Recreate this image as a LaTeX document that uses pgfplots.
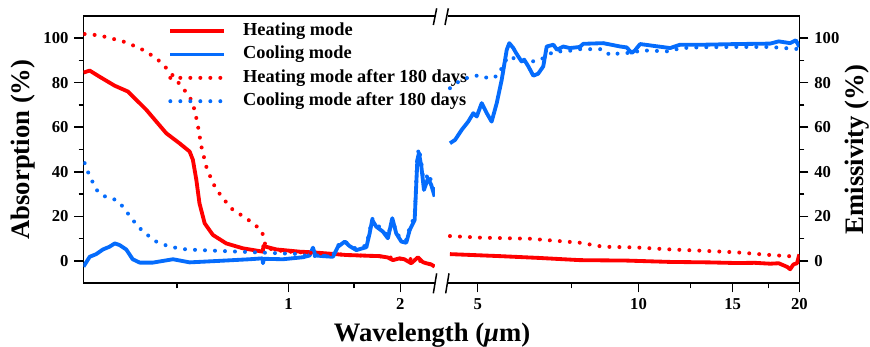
\documentclass[border=0pt]{standalone}
\usepackage{fontspec}
\setmainfont{Liberation Serif}
\usepackage{pgfplots}
\pgfplotsset{compat=1.18}
\definecolor{myred}{RGB}{255,0,0}
\definecolor{myblue}{RGB}{5,108,252}

\tikzset{
  solidline/.style={line width=2.3pt, line join=round},
  dotline/.style={line width=2.4pt, dash pattern=on 0pt off 6pt, line cap=round},
}

\begin{document}
\begin{tikzpicture}
\useasboundingbox (-50.1pt,-38.2pt) rectangle (471.9pt,170pt);

% ---------- left axis ----------
\begin{axis}[
  scale only axis, height=160.56pt, width=210.9pt,
  at={(0pt,0pt)}, anchor=south west,
  xmode=log, ymin=-10, ymax=110,
  xmin=0.28, xmax=2.48, xtick={1,2}, xticklabels={1,2}, minor xtick={0.5,1.5},
  ytick={0,20,40,60,80,100}, minor ytick={10,30,50,70,90},
  tick align=outside, major tick length=5.5pt, minor tick length=3pt,
  every tick/.append style={line width=0.9pt, black},
  axis line style={draw=none},
  clip mode=individual,
  xtick pos=bottom, ytick pos=left,
  tick label style={font=\fontsize{10}{12}\selectfont\bfseries},
  /pgf/number format/assume math mode=true,
  ylabel={Absorption (\%)},
  every axis y label/.style={at={(rel axis cs:-0.172,0.5)}, rotate=90, anchor=center,
    font=\fontsize{16}{18}\selectfont\bfseries},
  legend cell align=left,
  legend style={at={(rel axis cs:0.2404,0.987)}, anchor=north west, draw=none, fill=none,
    inner sep=0pt,
    font=\fontsize{11}{13}\selectfont\bfseries,
    nodes={text height=7.7pt, text depth=2.4pt, inner ysep=1.95pt}},
  legend image code/.code={\draw[#1] (0pt,0pt) -- (32.4pt,0pt); \path (40.5pt,0pt);},
]
\draw[line width=1pt] (rel axis cs:1,0) -- (rel axis cs:0,0) -- (rel axis cs:0,1) -- (rel axis cs:1,1);

\addplot[myred, solidline] coordinates {
(0.28,84.5) (0.291,85.4) (0.309,82.7) (0.340,78.6) (0.369,76.0) (0.4135,67.8)
(0.468,57.3) (0.508,52.8) (0.541,49.1) (0.552,45.4) (0.564,36.4) (0.575,25.9)
(0.594,16.9) (0.625,11.7) (0.679,7.9) (0.753,5.7) (0.852,4.2) (0.855,6.7)
(0.927,5.2) (1.07,4.2) (1.163,3.9) (1.43,2.7) (1.758,2.2) (1.85,1.6) (1.91,0.4)
(1.99,1.2) (2.05,0.8) (2.14,-1.0) (2.232,1.7) (2.30,-0.5) (2.35,-1.0) (2.42,-1.5) (2.475,-2.5)
};
\addlegendentry{Heating mode}

\addplot[myblue, solidline] coordinates {
(0.28,-2.5) (0.291,1.9) (0.303,3.1) (0.316,5.2) (0.329,6.4) (0.340,7.9) (0.350,7.2)
(0.365,5.2) (0.380,0.8) (0.397,-0.7) (0.431,-0.7) (0.488,0.8) (0.541,-0.6) (0.638,0.0)
(0.785,0.8) (0.85,1.2) (0.853,-1.0) (0.857,1.0) (0.965,0.8) (1.093,1.7) (1.14,2.5)
(1.163,6.0) (1.18,2.5) (1.237,2.2) (1.316,1.9) (1.358,6.4) (1.416,8.7) (1.46,6.7)
(1.522,4.9) (1.62,6.2) (1.653,12.4) (1.68,18.4) (1.723,15.4) (1.795,13.2) (1.852,10.2)
(1.903,19.2) (1.95,12.4) (2.013,8.7) (2.075,8.2) (2.12,13.9) (2.186,18.4) (2.223,45.4)
(2.245,48.4) (2.279,42.3) (2.316,31.9) (2.374,37.1) (2.423,34.1) (2.475,28.9)
};
\addlegendentry{Cooling mode}

\addplot[myred, dotline] coordinates {
(0.282,101.8) (0.309,101.2) (0.3575,98.5) (0.397,95.5) (0.44,91.0) (0.478,85.0)
(0.514,78.3) (0.541,73.8) (0.558,67.8) (0.570,60.3) (0.582,51.3) (0.600,42.3)
(0.625,34.9) (0.659,28.9) (0.708,22.9) (0.769,19.2) (0.844,13.9) (0.862,9.4)
(0.865,6.0) (0.93,4.8) (1.0,4.2) (1.2,3.5) (1.5,2.6) (1.8,2.0) (2.0,1.0) (2.2,0.8)
(2.35,-1.0) (2.475,-2.0)
};
\addlegendentry{Heating mode after 180 days}

\addplot[myblue, dotline] coordinates {
(0.282,43.9) (0.291,37.9) (0.306,31.1) (0.3226,28.6) (0.343,27.4) (0.3575,24.4)
(0.380,18.4) (0.405,13.2) (0.44,8.7) (0.478,6.4) (0.530,5.2) (0.638,4.6) (0.785,4.0)
(0.965,3.4) (1.05,3.2) (1.1,2.5) (1.2,2.2) (1.316,2.5) (1.358,7.0) (1.416,9.0)
(1.46,7.0) (1.522,5.5) (1.62,7.0) (1.68,19.0) (1.723,16.5) (1.795,14.0) (1.852,11.0)
(1.903,19.0) (1.95,13.0) (2.013,9.5) (2.075,9.5) (2.12,15.0) (2.186,20.0) (2.223,47.0)
(2.245,50.6) (2.279,44.0) (2.316,34.0) (2.374,39.4) (2.423,36.0) (2.475,30.0)
};
\addlegendentry{Cooling mode after 180 days}
\end{axis}

% ---------- right axis ----------
\begin{axis}[
  scale only axis, height=160.56pt, width=210.8pt,
  at={(218.7pt,0pt)}, anchor=south west,
  xmode=log, ymin=-10, ymax=110,
  xmin=4.40, xmax=20, xtick={5,10,15,20}, xticklabels={5,10,15,20},
  minor xtick={7.5,12.5,17.5},
  ytick={0,20,40,60,80,100}, minor ytick={10,30,50,70,90},
  tick align=outside, major tick length=5.5pt, minor tick length=3pt,
  every tick/.append style={line width=0.9pt, black},
  axis line style={draw=none},
  clip mode=individual,
  xtick pos=bottom, ytick pos=right, yticklabel pos=right,
  tick label style={font=\fontsize{10}{12}\selectfont\bfseries},
  /pgf/number format/assume math mode=true,
  ylabel={Emissivity (\%)},
  every axis y label/.style={at={(rel axis cs:1.164,0.5)}, rotate=90, anchor=center,
    font=\fontsize{16}{18}\selectfont\bfseries},
]
\draw[line width=1pt] (rel axis cs:0,0) -- (rel axis cs:1,0) -- (rel axis cs:1,1) -- (rel axis cs:0,1);

\addplot[myred, solidline] coordinates {
(4.437,3.1) (5.5,2.2) (6.5,1.4) (7.77,0.4) (9.5,0.2) (11.46,-0.4) (13.5,-0.6)
(15.27,-0.9) (16.5,-0.8) (17.64,-1.2) (18.3,-1.0) (18.8,-2.2) (19.0,-2.7)
(19.22,-3.7) (19.5,-1.5) (19.8,-1.0) (20,3.0)
};

\addplot[myblue, solidline] coordinates {
(4.437,52.8) (4.535,54.3) (4.667,58.8) (4.80,62.5) (4.907,66.3) (4.98,64.8)
(5.087,70.8) (5.20,66.3) (5.31,62.5) (5.428,70.8) (5.546,81.3) (5.667,94.7)
(5.73,97.7) (5.83,95.5) (5.90,93.3) (6.04,89.5) (6.11,90.3) (6.22,87.3) (6.355,83.1)
(6.49,84.0) (6.634,87.3) (6.733,96.2) (6.93,97.0) (7.04,94.7) (7.23,96.2) (7.44,95.5)
(7.77,96.0) (7.88,97.4) (8.59,97.7) (9.24,96.2) (9.5,95.8) (9.71,93.3) (9.85,94.5)
(10.07,97.3) (10.66,96.5) (11.46,95.5) (11.96,97.0) (13.22,97.0) (15.27,97.3)
(17.64,97.5) (18.3,98.5) (19.22,97.7) (19.7,99.0) (20,96.0)
};

\addplot[myred, dotline] coordinates {
(4.437,11.2) (5.05,10.5) (6.27,10.0) (7.77,8.2) (8.59,6.4) (9.9,6.1) (11.46,5.2)
(13.2,4.6) (15.27,3.9) (17.64,2.7) (20,1.9)
};

\addplot[myblue, dotline] coordinates {
(4.437,77.5) (4.61,80.5) (4.84,82.7) (5.05,83.3) (5.27,81.7) (5.47,83.3) (5.58,88.0)
(5.70,91.7) (5.83,91.0) (6.07,89.8) (6.44,89.5) (6.73,91.7) (6.93,94.0) (7.3,94.0)
(7.77,95.0) (8.59,95.0) (8.85,92.2) (9.24,93.3) (9.78,93.3) (10.07,94.5) (11.46,94.0)
(11.96,95.5) (13.2,95.9) (15.3,96.0) (17.6,96.0) (20,95.0)
};
\end{axis}

% axis break marks
\draw[line width=0.9pt] (209.9pt,155.0pt) -- (211.9pt,165.0pt);
\draw[line width=0.9pt] (216.9pt,155.0pt) -- (218.9pt,165.0pt);
\draw[line width=0.9pt] (209.9pt,-6.0pt) -- (211.9pt,6.0pt);
\draw[line width=0.9pt] (217.3pt,-6.0pt) -- (219.3pt,6.0pt);

% common x label
\node[font=\fontsize{16}{18}\selectfont\bfseries] at (209.1pt,-31pt) {Wavelength ({\itshape μ}m)};
\end{tikzpicture}
\end{document}
